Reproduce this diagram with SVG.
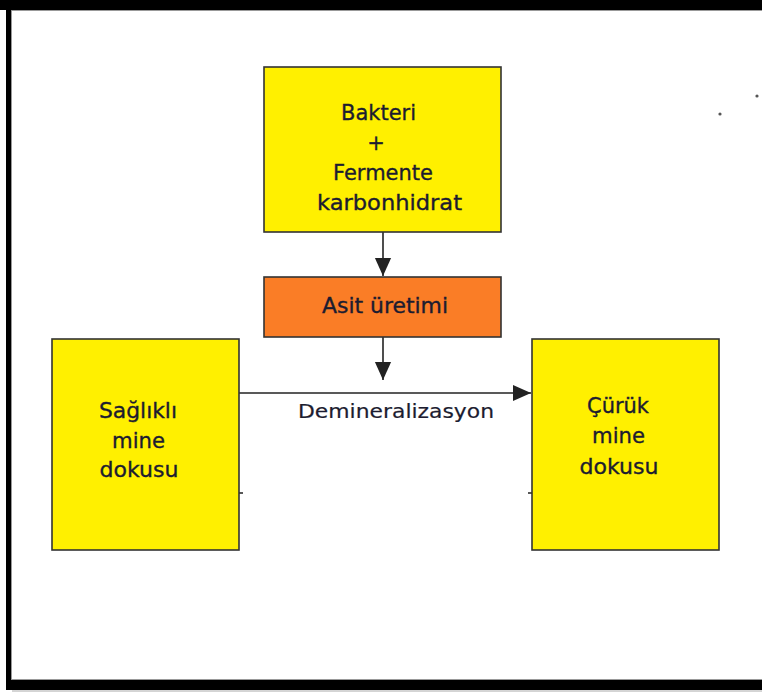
<svg xmlns="http://www.w3.org/2000/svg" width="762" height="693" viewBox="0 0 762 693">
<defs>
<style>
.box{stroke:#333;stroke-width:1.6}
.y{fill:#FFF000}
.o{fill:#FA7D26}
.t{font-family:"DejaVu Sans","Verdana",sans-serif;font-size:21px;fill:#1c1c30;stroke:#1c1c30;stroke-width:0.35;text-anchor:middle}
.c{stroke:#222;stroke-width:1.6;fill:none}
</style>
<marker id="ahb" viewBox="0 0 10 10" refX="10" refY="5" markerWidth="18" markerHeight="18" markerUnits="userSpaceOnUse" orient="auto">
<path d="M0,0.5 L10,5 L0,9.5 Z" fill="#222"/>
</marker>
</defs>
<rect width="762" height="693" fill="#fff"/>
<g id="frame">
<rect x="0" y="0" width="762" height="10" fill="#000"/>
<rect x="6" y="0" width="5.5" height="690" fill="#000"/>
<rect x="6" y="680" width="756" height="10" fill="#000"/>
<path d="M12,691 H762" stroke="#aaa" stroke-width="1"/>
<path d="M11.5,10.5 H762 M11.5,10.5 V679.5 H762" stroke="#999" stroke-width="1" fill="none"/>
<circle cx="757" cy="96" r="1.6" fill="#555"/>
<circle cx="720" cy="114" r="1.6" fill="#555"/>
</g>
<g id="connectors">
<path class="c" d="M383,232 V276" marker-end="url(#ahb)"/>
<path class="c" d="M383,337 V380" marker-end="url(#ahb)"/>
<path class="c" d="M239,393 H531" marker-end="url(#ahb)"/>
<path class="c" d="M239,493 H243 M528,493 H532"/>
<text x="396" y="418" class="t" style="font-size:19.5px;stroke-width:0.2" textLength="196" lengthAdjust="spacingAndGlyphs">Demineralizasyon</text>
</g>
<g id="bakteri">
<rect class="box y" x="264" y="67" width="237" height="165"/>
<text class="t" x="378.5" y="120" textLength="75" lengthAdjust="spacingAndGlyphs">Bakteri</text>
<text class="t" x="376" y="150">+</text>
<text class="t" x="383" y="180" textLength="100" lengthAdjust="spacingAndGlyphs">Fermente</text>
<text class="t" x="389.5" y="210" textLength="145" lengthAdjust="spacingAndGlyphs">karbonhidrat</text>
</g>
<g id="asit">
<rect class="box o" x="264" y="277" width="237" height="60"/>
<text class="t" x="385" y="313" textLength="126" lengthAdjust="spacingAndGlyphs">Asit üretimi</text>
</g>
<g id="saglikli">
<rect class="box y" x="52" y="339" width="187" height="211"/>
<text class="t" x="138" y="418" textLength="78" lengthAdjust="spacingAndGlyphs">Sağlıklı</text>
<text class="t" x="138.5" y="448" textLength="53" lengthAdjust="spacingAndGlyphs">mine</text>
<text class="t" x="139" y="477" textLength="79" lengthAdjust="spacingAndGlyphs">dokusu</text>
</g>
<g id="curuk">
<rect class="box y" x="532" y="339" width="187" height="211"/>
<text class="t" x="618" y="413" textLength="62" lengthAdjust="spacingAndGlyphs">Çürük</text>
<text class="t" x="618.5" y="443" textLength="53" lengthAdjust="spacingAndGlyphs">mine</text>
<text class="t" x="619" y="474" textLength="79" lengthAdjust="spacingAndGlyphs">dokusu</text>
</g>
</svg>
